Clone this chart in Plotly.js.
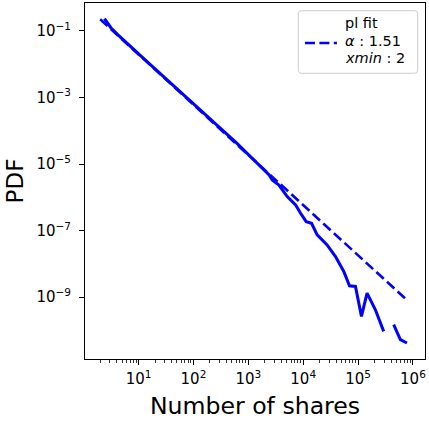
<!DOCTYPE html>
<html>
<head>
<meta charset="utf-8">
<script src="https://cdn.plot.ly/plotly-3.0.1.min.js"></script>
<style>html,body{margin:0;padding:0;background:#fff;}#chart{width:429px;height:423px;}</style>
</head>
<body>
<div id="chart"></div>
<script>
const shareX = [2.39, 3.16, 4.17, 5.50, 7.24, 9.55, 12.6, 16.6, 21.9, 28.8, 38.0, 50.1, 66.1, 87.1, 114.8, 151.4, 199.5, 263, 346.7, 457, 602.6, 794, 1047, 1380, 1820, 2399, 2729, 3614, 5117, 7278, 8974, 11350, 14220, 17990, 27290, 38820, 54950, 69820, 89740, 115300, 145900, 207000, 293100, 363100, 445700, 590200, 778000];
const sharePdf = [0.2355, 0.123, 0.0776, 0.0501, 0.0331, 0.0219, 0.01445, 0.00955, 0.00631, 0.00417, 0.00275, 0.00182, 0.00120, 7.94e-4, 5.37e-4, 3.47e-4, 2.29e-4, 1.585e-4, 1.0e-4, 6.76e-5, 4.37e-5, 2.82e-5, 1.82e-5, 1.175e-5, 7.59e-6, 4.68e-6, 3.31e-6, 2.34e-6, 1.047e-6, 5.89e-7, 3.31e-7, 1.86e-7, 1.66e-7, 7.41e-8, 3.72e-8, 1.66e-8, 5.89e-9, 2.19e-9, 2.09e-9, 2.63e-10, 1.32e-9, 4.17e-10, 9.33e-11, null, 1.48e-10, 5.25e-11, 4.17e-11];

// Power-law fit line (alpha 1.51, xmin 2)
const fitX = [2, 10, 100, 1000, 10000, 100000, 810000];
const fitY = [0.2244, 0.01977, 6.11e-4, 1.888e-5, 5.83e-7, 1.80e-8, 7.67e-10];
const fitLabelLines = ["pl fit", "<i>α</i> : 1.51", "<i>xmin</i> : 2"];

// Tick labels
const xTickVals = [10, 100, 1000, 10000, 100000, 1000000];
const xTickText = ["10<sup>1</sup>", "10<sup>2</sup>", "10<sup>3</sup>", "10<sup>4</sup>", "10<sup>5</sup>", "10<sup>6</sup>"];
const yTickVals = [1e-1, 1e-3, 1e-5, 1e-7, 1e-9];
const yTickText = ["10<sup>−1</sup>", "10<sup>−3</sup>", "10<sup>−5</sup>", "10<sup>−7</sup>", "10<sup>−9</sup>"];

const xMinorVals = [];
for (let d = 0; d <= 5; d++) {
  for (let k = 2; k <= 9; k++) xMinorVals.push(k * Math.pow(10, d));
}

const FONT = "DejaVu Sans";
const BLUE = "#0000ff";
const FIT_DASH = "10px,4.4px";

const traces = [
  {
    x: shareX, y: sharePdf, type: "scatter", mode: "lines",
    line: {color: BLUE, width: 3}, showlegend: false, connectgaps: false
  },
  {
    x: fitX, y: fitY, type: "scatter", mode: "lines",
    line: {color: BLUE, width: 2.6, dash: FIT_DASH},
    name: fitLabelLines.join("<br>"), showlegend: false
  }
];

// Legend box (matplotlib-like, left-aligned multi-line label), in paper coords
const lgX0 = 0.6274, lgX1 = 0.9785, lgY0 = 0.8025, lgY1 = 0.9784;
const rx = 0.0088, ry = 0.0084;
const boxPath =
  `M ${lgX0 + rx} ${lgY1} L ${lgX1 - rx} ${lgY1} Q ${lgX1} ${lgY1} ${lgX1} ${lgY1 - ry} ` +
  `L ${lgX1} ${lgY0 + ry} Q ${lgX1} ${lgY0} ${lgX1 - rx} ${lgY0} ` +
  `L ${lgX0 + rx} ${lgY0} Q ${lgX0} ${lgY0} ${lgX0} ${lgY0 + ry} ` +
  `L ${lgX0} ${lgY1 - ry} Q ${lgX0} ${lgY1} ${lgX0 + rx} ${lgY1} Z`;

const lineYs = [0.943, 0.894, 0.845];
const legendAnnotations = fitLabelLines.map((t, i) => ({
  xref: "paper", yref: "paper", x: 0.7625, y: lineYs[i], xanchor: "left", yanchor: "middle",
  align: "left", showarrow: false, text: t, borderpad: 0,
  font: {family: FONT, size: 14.5, color: "#000"}
}));

const layout = {
  width: 429, height: 423,
  margin: {l: 85, r: 4, t: 3, b: 64},
  paper_bgcolor: "#fff", plot_bgcolor: "#fff",
  font: {family: FONT, color: "#000", size: 15},
  showlegend: false,
  xaxis: {
    type: "log", range: [0.024, 6.22],
    showgrid: false, zeroline: false,
    showline: true, mirror: true, linecolor: "#000", linewidth: 1,
    ticks: "outside", ticklen: 5, tickwidth: 1, tickcolor: "#000",
    tickmode: "array", tickvals: xTickVals, ticktext: xTickText,
    tickfont: {family: FONT, size: 15}, ticklabelstandoff: 1,
    minor: {tickmode: "array", tickvals: xMinorVals, ticks: "outside", ticklen: 3, tickwidth: 0.8, tickcolor: "#000", showgrid: false},
    title: {text: "Number of shares", font: {family: FONT, size: 23.6}, standoff: 10}
  },
  yaxis: {
    type: "log", range: [-10.86, -0.16],
    showgrid: false, zeroline: false,
    showline: true, mirror: true, linecolor: "#000", linewidth: 1,
    ticks: "outside", ticklen: 5, tickwidth: 1, tickcolor: "#000",
    tickmode: "array", tickvals: yTickVals, ticktext: yTickText,
    tickfont: {family: FONT, size: 15}, ticklabelstandoff: 5,
    title: {text: "PDF", font: {family: FONT, size: 23}, standoff: 6}
  },
  shapes: [
    {type: "path", xref: "paper", yref: "paper", path: boxPath,
     fillcolor: "rgba(255,255,255,0.8)", line: {color: "#cccccc", width: 1}, layer: "above"},
    {type: "line", xref: "paper", yref: "paper", x0: 0.647, x1: 0.741, y0: 0.8876, y1: 0.8876,
     line: {color: BLUE, width: 2.6, dash: FIT_DASH}, layer: "above"}
  ],
  annotations: legendAnnotations
};

Plotly.newPlot("chart", traces, layout, {staticPlot: true, displayModeBar: false});
</script>
</body>
</html>
